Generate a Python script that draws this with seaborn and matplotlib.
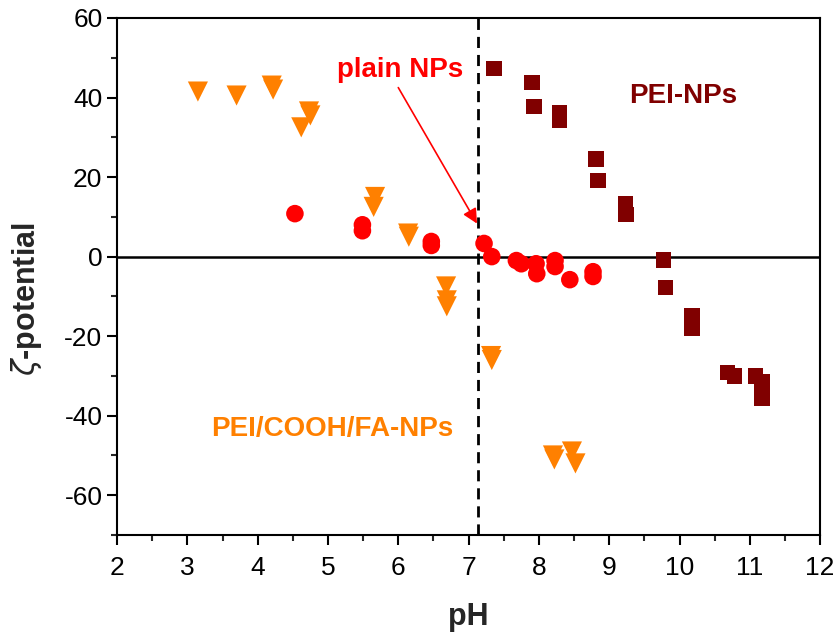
import numpy as np
import pandas as pd
import seaborn as sns
import matplotlib.pyplot as plt
from matplotlib.ticker import MultipleLocator

# PEI/COOH/FA-NPs (orange triangles)
fa_ph = [3.15, 3.7, 4.2, 4.22, 4.62, 4.73, 4.75, 5.67, 5.65, 6.14, 6.15,
         6.68, 6.69, 6.69, 7.32, 7.33, 8.2, 8.22, 8.47, 8.52]
fa_zeta = [41.5, 40.5, 43.0, 42.0, 32.5, 36.5, 35.5, 15.0, 12.5, 5.8, 5.0,
           -7.5, -11.0, -12.5, -25.0, -26.0, -50.0, -51.0, -49.0, -52.0]

# plain NPs (red circles)
plain_ph = [4.53, 5.49, 5.49, 6.47, 6.47, 7.22, 7.33, 7.68, 7.75, 7.96, 7.97,
            8.23, 8.23, 8.44, 8.77, 8.77]
plain_zeta = [10.8, 8.0, 6.5, 3.8, 2.8, 3.3, 0.0, -1.0, -1.8, -1.8, -4.3,
              -1.0, -2.5, -5.8, -3.8, -5.0]

# PEI-NPs (dark red squares)
pei_ph = [7.36, 7.9, 7.93, 8.29, 8.29, 8.81, 8.84, 9.23, 9.24, 9.77, 9.8,
          10.18, 10.18, 10.68, 10.78, 11.08, 11.17, 11.17, 11.17]
pei_zeta = [47.3, 43.8, 37.7, 36.2, 34.2, 24.6, 19.1, 13.3, 10.6, -0.8, -7.8,
            -15.0, -17.9, -29.2, -30.0, -30.0, -31.5, -33.7, -35.5]

sns.set_style("ticks")
plt.rcParams['font.family'] = ['Liberation Sans', 'DejaVu Sans']
plt.rcParams['axes.unicode_minus'] = False

fig = plt.figure(figsize=(8.36, 6.35), dpi=100)
ax = fig.add_axes([0.14, 0.1575, 0.841, 0.8142])

ax.axhline(0, color='black', lw=1.8, zorder=1)
ax.axvline(7.13, color='black', lw=2, ls=(0, (4, 2.5)), zorder=1)

sns.scatterplot(x=fa_ph, y=fa_zeta, marker='v', s=210, color='#FF8000',
                edgecolor='none', ax=ax, zorder=3)
sns.scatterplot(x=plain_ph, y=plain_zeta, marker='o', s=160, color='#FF0000',
                edgecolor='none', ax=ax, zorder=3)
sns.scatterplot(x=pei_ph, y=pei_zeta, marker='s', s=125, color='#800000',
                edgecolor='none', ax=ax, zorder=3)

ax.set_xlim(2, 12)
ax.set_ylim(-70, 60)
ax.xaxis.set_major_locator(MultipleLocator(1))
ax.xaxis.set_minor_locator(MultipleLocator(0.5))
ax.yaxis.set_major_locator(MultipleLocator(20))
ax.yaxis.set_minor_locator(MultipleLocator(10))
ax.tick_params(which='major', direction='out', length=7, width=1.5,
               labelsize=19, colors='black')
ax.tick_params(axis='x', which='major', pad=8)
ax.tick_params(which='minor', direction='out', length=4, width=1.5)
for sp in ax.spines.values():
    sp.set_linewidth(1.5)
    sp.set_color('black')

ax.set_xlabel('pH', fontsize=22, fontweight='bold', va='center')
ax.xaxis.set_label_coords(0.5, -0.159)
ax.set_ylabel(r'$\zeta$-potential', fontsize=22, fontweight='bold',
              va='center', ha='center')
ax.yaxis.set_label_coords(-0.129, 0.456)

ax.text(6.03, 46.8, 'plain NPs', color='#FF0000', fontsize=20,
        fontweight='bold', ha='center', va='center')
ax.text(10.05, 40.3, 'PEI-NPs', color='#800000', fontsize=20,
        fontweight='bold', ha='center', va='center')
ax.text(5.06, -43.3, 'PEI/COOH/FA-NPs', color='#FF8000', fontsize=20,
        fontweight='bold', ha='center', va='center')
ax.annotate('', xy=(7.12, 8.3), xytext=(6.0, 42.5),
            arrowprops=dict(arrowstyle='-|>', color='#FF0000', lw=1.2,
                            mutation_scale=22, shrinkA=0, shrinkB=0))

fig.savefig('out.png', dpi=100)
